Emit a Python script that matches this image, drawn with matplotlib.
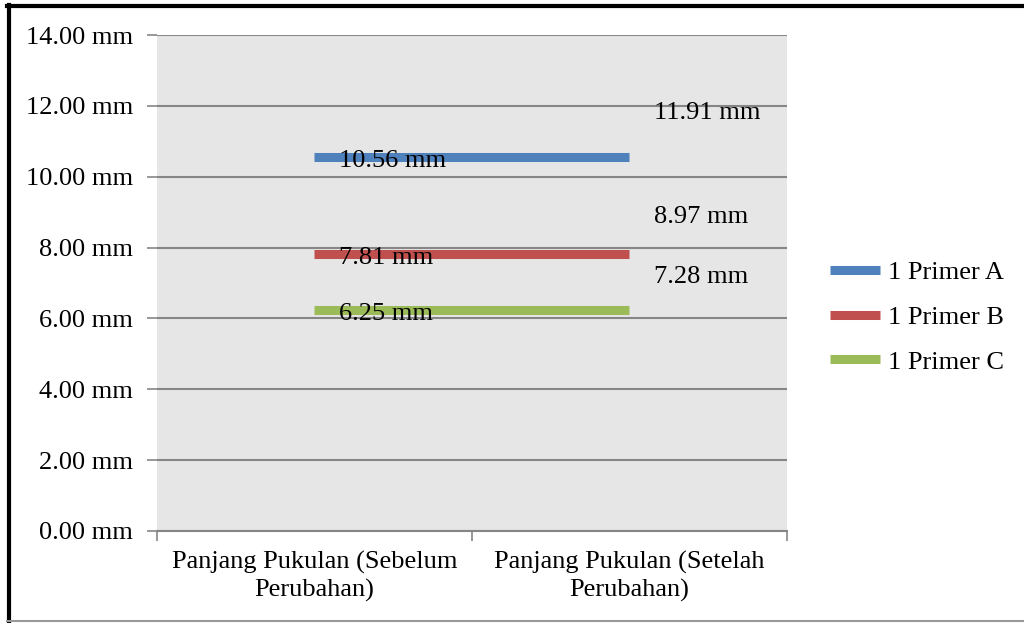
import numpy as np
import matplotlib.pyplot as plt
from matplotlib.lines import Line2D

categories = ["Panjang Pukulan (Sebelum\nPerubahan)", "Panjang Pukulan (Setelah\nPerubahan)"]
series_names = ["1 Primer A", "1 Primer B", "1 Primer C"]
primer_a = [10.56, 11.91]
primer_b = [7.81, 8.97]
primer_c = [6.25, 7.28]
colors = ["#4F81BD", "#C0504D", "#9BBB59"]
y_ticks = [0, 2, 4, 6, 8, 10, 12, 14]

plt.rcParams['font.family'] = ['Liberation Serif', 'DejaVu Serif']
fs = 19

fig = plt.figure(figsize=(10.24, 6.23), dpi=100)
ax = fig.add_axes([0.1533, 0.1477, 0.6152, 0.7961])
ax.set_facecolor("#E6E6E6")

pos = np.array([0.5, 1.5])
handles = []
for name, vals, c in zip(series_names, [primer_a, primer_b, primer_c], colors):
    # the series line runs flat at the first value between the two categories
    ln, = ax.plot(pos, [vals[0], vals[0]], color=c, lw=6.5, solid_capstyle='butt', label=name)
    handles.append(ln)
    for x, v in zip(pos, vals):
        ax.annotate("%.2f mm" % v, (x, v), xytext=(18, -3), textcoords='offset points',
                    ha='left', va='center', fontsize=fs, color='black')

ax.set_xlim(0, 2)
ax.set_ylim(0, 14)
ax.set_yticks(y_ticks)
ax.set_yticklabels(["%.2f mm" % t for t in y_ticks], fontsize=fs)
ax.yaxis.grid(True, color="#868686", lw=1.5)
ax.set_axisbelow(True)
ax.tick_params(axis='y', length=7, width=1.2, color="#868686", pad=10)

ax.set_xticks([0, 1, 2])
ax.set_xticklabels([])
ax.set_xticks(pos, minor=True)
ax.set_xticklabels(categories, minor=True, fontsize=fs, linespacing=1.3)
ax.tick_params(axis='x', which='major', length=7, width=1.2, color="#868686")
ax.tick_params(axis='x', which='minor', length=0, pad=14)

for s in ['left', 'right', 'top']:
    ax.spines[s].set_visible(False)
ax.spines['bottom'].set_color("#868686")
ax.spines['bottom'].set_linewidth(1.5)

fig.legend(handles=handles, loc='upper left', bbox_to_anchor=(830 / 1024, 1 - 261 / 623),
           frameon=False, fontsize=fs, handlelength=1.9, handletextpad=0.3,
           labelspacing=0.8, borderpad=0, borderaxespad=0)

# frame: black top and left edges, thin grey bottom edge
fig.lines.append(Line2D([0.007, 1.0], [0.990, 0.990], transform=fig.transFigure, color='black', lw=3))
fig.lines.append(Line2D([0.009, 0.009], [0.003, 0.992], transform=fig.transFigure, color='black', lw=3))
fig.lines.append(Line2D([0.007, 1.0], [0.003, 0.003], transform=fig.transFigure, color='#999999', lw=1.5))

fig.savefig("out.png", dpi=100)
